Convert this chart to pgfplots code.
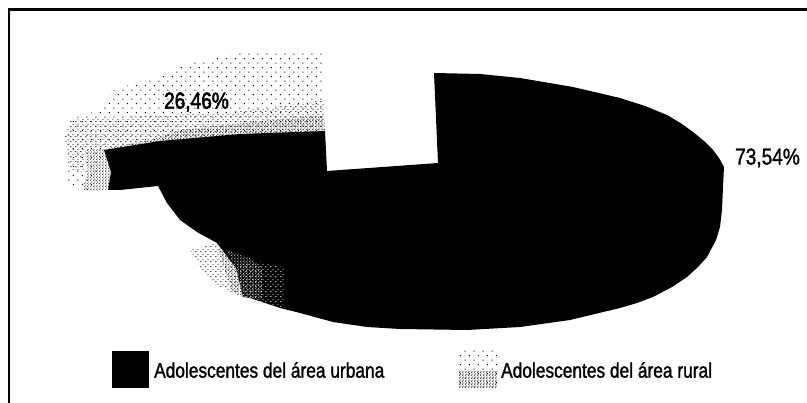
\documentclass[border=0pt]{standalone}
\usepackage{fontspec}
\usepackage{pgfplots}
\usetikzlibrary{patterns}
\pgfplotsset{compat=1.18}
\setmainfont{Liberation Sans}
\newfontfamily\scanfont[FakeBold=1.5]{Liberation Sans}
\newfontfamily\scanbold[FakeBold=2.5]{Liberation Sans}
\pgfdeclarepatternformonly{stipA}{\pgfqpoint{0pt}{0pt}}{\pgfqpoint{9pt}{9pt}}{\pgfqpoint{9pt}{9pt}}{%
  \pgfpathrectangle{\pgfqpoint{1pt}{2pt}}{\pgfqpoint{1.1pt}{1.1pt}}
  \pgfpathrectangle{\pgfqpoint{6pt}{7pt}}{\pgfqpoint{1.1pt}{1.1pt}}
  \pgfusepath{fill}}
\pgfdeclarepatternformonly{stipB}{\pgfqpoint{0pt}{0pt}}{\pgfqpoint{5pt}{5pt}}{\pgfqpoint{5pt}{5pt}}{%
  \pgfpathrectangle{\pgfqpoint{0.5pt}{1pt}}{\pgfqpoint{1.1pt}{1.1pt}}
  \pgfpathrectangle{\pgfqpoint{3pt}{3.5pt}}{\pgfqpoint{1.1pt}{1.1pt}}
  \pgfusepath{fill}}
\pgfdeclarepatternformonly{stipC}{\pgfqpoint{0pt}{0pt}}{\pgfqpoint{3pt}{3pt}}{\pgfqpoint{3pt}{3pt}}{%
  \pgfpathrectangle{\pgfqpoint{0.2pt}{0.4pt}}{\pgfqpoint{1.2pt}{1.2pt}}
  \pgfpathrectangle{\pgfqpoint{1.8pt}{2pt}}{\pgfqpoint{1.0pt}{1.0pt}}
  \pgfusepath{fill}}
\begin{document}
\begin{tikzpicture}
\begin{axis}[
  scale only axis, width=807pt, height=403pt,
  xmin=0, xmax=807, ymin=0, ymax=403, y dir=reverse,
  hide axis, clip=true,
  every axis plot/.append style={no marks, line width=0pt}
]
\path (axis cs:0,0) rectangle (axis cs:807,403);
% frame
\addplot[black, line width=2.2pt] coordinates {(9,403) (9,9.5) (807,9.5)};
% rural slice, top and sides
\addplot[pattern=stipA, draw=none] coordinates {(325,131) (323,53) (300,50) (240,53) (190,63) (163,75) (113,90) (100,110) (73,118) (65,137) (67,187) (93,191) (103,149)} -- cycle;
\addplot[pattern=stipB, draw=none] coordinates {(325,131) (324,100) (290,105) (230,112) (170,115) (100,118) (70,120) (65,137) (70,170) (85,172) (85,150) (103,149)} -- cycle;
\addplot[pattern=stipC, draw=none] coordinates {(325,131) (324,116) (290,118) (235,124) (180,130) (150,140) (103,149)} -- cycle;
\addplot[pattern=stipC, draw=none] coordinates {(85,150) (103,149) (112,150) (112,189) (93,191) (82,190) (88,172)} -- cycle;
% urban slice
\addplot[fill=black, draw=none] coordinates {(434,73) (480,74) (520,78) (573,87) (620,98) (645,106) (667,115) (682,124) (693,132) (704,141) (713,150) (719,158) (724,167) (723,187) (722,210) (720,227) (716,240) (707,257) (698,267) (687,277) (672,287) (653,297) (637,303) (620,308) (570,320) (520,327) (467,330) (400,329) (367,327) (333,322) (300,313) (280,308) (250,298) (243,297) (236,268) (217,243) (197,232) (180,220) (167,203) (158,186) (120,190) (108,190) (111,172) (104,150) (160,141) (240,134) (325,131) (327,171) (438,163)} -- cycle;
% rural shade on the lower left
\addplot[pattern=stipB, draw=none] coordinates {(190,250) (217,243) (236,268) (243,297) (222,288) (205,275)} -- cycle;
\addplot[pattern=stipC, draw=none] coordinates {(217,243) (236,268) (243,297) (232,292) (222,262)} -- cycle;
\addplot[pattern=stipB, pattern color=white, draw=none] coordinates {(236,262) (262,262) (285,268) (283,308) (243,297)} -- cycle;
\addplot[pattern=stipC, pattern color=white, draw=none] coordinates {(226,250) (250,258) (262,268) (262,300) (243,297) (236,268)} -- cycle;
% legend keys
\addplot[fill=black, draw=none] coordinates {(112,351) (149,351) (149,388) (112,388)} -- cycle;
\addplot[pattern=stipA, draw=none] coordinates {(459,350) (497,350) (497,388) (459,388)} -- cycle;
\addplot[pattern=stipC, draw=none] coordinates {(459,372) (497,372) (497,388) (459,388)} -- cycle;
% texts
\node[anchor=center, font=\scanbold\fontsize{23}{23}\selectfont, xscale=0.83, inner sep=0pt] at (axis cs:196.5,102) {26,46\%};
\node[anchor=center, font=\scanfont\fontsize{23}{23}\selectfont, xscale=0.83, inner sep=0pt] at (axis cs:767.5,158) {73,54\%};
\node[anchor=west, font=\scanfont\fontsize{21}{21}\selectfont, xscale=0.825, inner sep=0pt] at (axis cs:154,370) {Adolescentes del área urbana};
\node[anchor=west, font=\scanfont\fontsize{21}{21}\selectfont, xscale=0.825, inner sep=0pt] at (axis cs:501,370) {Adolescentes del área rural};
\end{axis}
\end{tikzpicture}
\end{document}
